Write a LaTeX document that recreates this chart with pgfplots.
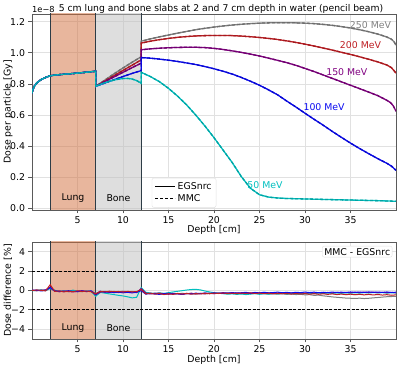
\documentclass[border=0pt]{standalone}
\usepackage{fontspec}
\setmainfont{DejaVu Sans}
\usepackage{pgfplots}
\usepackage{pgfplotstable}
\pgfplotsset{compat=1.18}

\definecolor{c250}{RGB}{128,128,128}
\definecolor{c200}{RGB}{190,30,35}
\definecolor{c150}{RGB}{128,0,128}
\definecolor{c100}{RGB}{10,10,240}
\definecolor{c50}{RGB}{0,191,191}
\definecolor{lungfill}{RGB}{210,110,60}
\definecolor{bonefill}{RGB}{190,190,190}
\definecolor{slabedge}{RGB}{45,60,70}
\definecolor{gridgray}{RGB}{225,225,225}
\definecolor{spine}{RGB}{90,90,90}

% Depth dose per particle (units of 1e-8 Gy), depth in cm
\pgfplotstableread{
x y
0 0.74
0.1 0.765
0.25 0.785
0.5 0.805
0.75 0.818
1 0.828
1.5 0.842
2 0.853
2.5 0.857
3 0.860
4 0.865
5 0.870
6 0.876
7 0.882
7 0.785
8 0.825
9 0.865
10 0.903
11 0.940
12 0.975
12 1.075
13 1.090
14 1.103
15 1.115
16 1.127
17 1.138
18 1.149
19 1.158
20 1.166
21 1.173
22 1.179
23 1.184
24 1.188
25 1.191
26 1.193
27 1.194
28 1.194
29 1.193
30 1.191
31 1.188
32 1.183
33 1.177
34 1.169
35 1.160
36 1.149
37 1.136
38 1.121
39 1.102
39.5 1.088
39.8 1.070
40 1.050
}\dosetwofifty

\pgfplotstableread{
x y
0 0.74
0.1 0.765
0.25 0.785
0.5 0.805
0.75 0.818
1 0.828
1.5 0.842
2 0.853
2.5 0.857
3 0.860
4 0.865
5 0.870
6 0.876
7 0.882
7 0.785
8 0.819
9 0.853
10 0.887
11 0.921
12 0.955
12 1.063
13 1.075
14 1.085
15 1.093
16 1.100
17 1.105
18 1.109
19 1.111
20 1.112
21 1.112
22 1.111
23 1.108
24 1.104
25 1.099
26 1.093
27 1.086
28 1.077
29 1.067
30 1.056
31 1.044
32 1.031
33 1.018
34 1.004
35 0.990
36 0.975
37 0.959
38 0.942
39 0.922
39.5 0.905
40 0.870
}\dosetwohundred

\pgfplotstableread{
x y
0 0.74
0.1 0.765
0.25 0.785
0.5 0.805
0.75 0.818
1 0.828
1.5 0.842
2 0.853
2.5 0.857
3 0.860
4 0.865
5 0.870
6 0.876
7 0.882
7 0.785
8 0.815
9 0.845
10 0.875
11 0.905
12 0.934
12 1.020
13 1.026
14 1.030
15 1.033
16 1.035
17 1.036
18 1.036
19 1.034
20 1.029
21 1.022
22 1.013
23 1.003
24 0.992
25 0.980
26 0.966
27 0.952
28 0.937
29 0.920
30 0.900
31 0.880
32 0.858
33 0.836
34 0.814
35 0.792
36 0.770
37 0.748
38 0.725
38.5 0.710
39 0.695
39.4 0.680
39.7 0.660
40 0.625
}\doseonefifty

\pgfplotstableread{
x y
0 0.74
0.1 0.765
0.25 0.785
0.5 0.805
0.75 0.818
1 0.828
1.5 0.842
2 0.853
2.5 0.857
3 0.860
4 0.865
5 0.870
6 0.876
7 0.882
7 0.785
8 0.806
9 0.827
10 0.848
11 0.868
12 0.886
12 0.970
13 0.966
14 0.960
15 0.953
16 0.945
17 0.935
18 0.925
19 0.912
20 0.898
21 0.882
22 0.864
23 0.842
24 0.818
25 0.792
26 0.762
27 0.730
28 0.690
29 0.652
30 0.612
31 0.573
32 0.535
33 0.495
34 0.457
35 0.420
36 0.385
37 0.352
38 0.320
39 0.290
39.5 0.272
40 0.245
}\doseonehundred

\pgfplotstableread{
x y
0 0.74
0.1 0.765
0.25 0.785
0.5 0.805
0.75 0.818
1 0.828
1.5 0.842
2 0.853
2.5 0.857
3 0.860
4 0.865
5 0.870
6 0.876
7 0.882
7 0.785
7.5 0.797
8 0.808
8.5 0.817
9 0.825
9.5 0.831
10 0.835
10.5 0.836
11 0.832
11.5 0.822
12 0.805
12 0.875
13 0.848
14 0.815
15 0.772
16 0.722
17 0.665
18 0.600
19 0.530
20 0.455
21 0.375
22 0.295
23 0.205
24 0.130
25 0.088
26 0.073
27 0.067
28 0.064
30 0.061
32 0.058
35 0.054
38 0.050
40 0.046
}\dosefifty

% Relative difference MMC - EGSnrc in percent
\pgfplotstableread{
x     d250   d200   d150   d100   d50
0.0   0.03  -0.02   0.05   0.01  -0.04
0.5  -0.04   0.06  -0.01   0.04   0.02
1.0   0.05   0.01   0.03  -0.05   0.06
1.5  -0.02  -0.04   0.07   0.03  -0.01
2.0   0.20   0.60   0.35   0.30   0.25
2.5  -0.05  -0.10  -0.02  -0.08   0.03
3.0  -0.11  -0.04  -0.13  -0.06  -0.09
3.5  -0.06  -0.14  -0.05  -0.12  -0.03
4.0  -0.13  -0.07  -0.10  -0.02  -0.11
4.5  -0.04  -0.12  -0.15  -0.09   0.04
5.0  -0.10  -0.03  -0.07  -0.13  -0.08
5.5  -0.07  -0.11  -0.02  -0.06  -0.12
6.0  -0.12  -0.06  -0.11  -0.10  -0.05
6.5  -0.03  -0.13  -0.08  -0.04  -0.10
7.0  -0.30  -0.35  -0.45  -0.40  -0.60
7.5  -0.12  -0.09  -0.16  -0.07  -0.20
8.0  -0.08  -0.15  -0.11  -0.19  -0.27
8.5  -0.14  -0.07  -0.20  -0.13  -0.35
9.0  -0.09  -0.13  -0.14  -0.22  -0.42
9.5  -0.15  -0.10  -0.21  -0.16  -0.50
10.0 -0.07  -0.16  -0.13  -0.24  -0.56
10.5 -0.13  -0.09  -0.19  -0.18  -0.65
11.0 -0.10  -0.14  -0.16  -0.25  -0.76
11.5 -0.16  -0.11  -0.22  -0.17  -0.70
12.0  0.05   0.10   0.20  -0.02   0.30
12.5 -0.28  -0.35  -0.25  -0.38  -0.18
13.0 -0.33  -0.27  -0.36  -0.29  -0.26
13.5 -0.26  -0.38  -0.30  -0.35  -0.31
14.0 -0.35  -0.31  -0.27  -0.40  -0.24
14.5 -0.29  -0.42  -0.34  -0.33  -0.30
15.0 -0.37  -0.33  -0.39  -0.28  -0.22
15.5 -0.31  -0.40  -0.29  -0.37  -0.15
16.0 -0.36  -0.30  -0.35  -0.32  -0.08
16.5 -0.28  -0.37  -0.41  -0.39  -0.02
17.0 -0.34  -0.29  -0.33  -0.30   0.05
17.5 -0.30  -0.38  -0.28  -0.36   0.10
18.0 -0.37  -0.32  -0.36  -0.27   0.12
18.5 -0.29  -0.36  -0.30  -0.33   0.06
19.0 -0.33  -0.28  -0.35  -0.25  -0.05
19.5 -0.27  -0.34  -0.29  -0.31  -0.15
20.0 -0.32  -0.27  -0.33  -0.24  -0.22
20.5 -0.26  -0.31  -0.27  -0.30  -0.28
21.0 -0.30  -0.25  -0.31  -0.22  -0.33
21.5 -0.24  -0.32  -0.26  -0.28  -0.38
22.0 -0.31  -0.27  -0.30  -0.21  -0.35
22.5 -0.27  -0.33  -0.24  -0.27  -0.40
23.0 -0.33  -0.26  -0.29  -0.23  -0.36
23.5 -0.28  -0.30  -0.25  -0.19  -0.42
24.0 -0.34  -0.24  -0.31  -0.26  -0.37
24.5 -0.29  -0.31  -0.27  -0.20  -0.33
25.0 -0.35  -0.27  -0.23  -0.25  -0.39
25.5 -0.30  -0.33  -0.29  -0.18  -0.34
26.0 -0.37  -0.28  -0.25  -0.24  -0.38
26.5 -0.32  -0.35  -0.30  -0.21  -0.32
27.0 -0.38  -0.29  -0.26  -0.17  -0.36
27.5 -0.33  -0.34  -0.22  -0.23  -0.30
28.0 -0.40  -0.30  -0.28  -0.19  -0.35
28.5 -0.36  -0.37  -0.24  -0.25  -0.31
29.0 -0.42  -0.31  -0.29  -0.18  -0.34
29.5 -0.39  -0.36  -0.23  -0.22  -0.29
30.0 -0.45  -0.32  -0.27  -0.16  -0.33
30.5 -0.43  -0.38  -0.22  -0.21  -0.28
31.0 -0.50  -0.33  -0.26  -0.17  -0.32
31.5 -0.48  -0.39  -0.21  -0.23  -0.27
32.0 -0.55  -0.34  -0.25  -0.18  -0.31
32.5 -0.60  -0.40  -0.20  -0.22  -0.26
33.0 -0.66  -0.35  -0.24  -0.16  -0.30
33.5 -0.70  -0.42  -0.19  -0.21  -0.25
34.0 -0.74  -0.37  -0.23  -0.17  -0.29
34.5 -0.78  -0.43  -0.18  -0.22  -0.24
35.0 -0.80  -0.38  -0.22  -0.15  -0.28
35.5 -0.82  -0.44  -0.17  -0.20  -0.23
36.0 -0.79  -0.39  -0.21  -0.16  -0.27
36.5 -0.83  -0.45  -0.16  -0.21  -0.22
37.0 -0.80  -0.40  -0.20  -0.15  -0.26
37.5 -0.76  -0.46  -0.17  -0.19  -0.21
38.0 -0.72  -0.41  -0.22  -0.16  -0.25
38.5 -0.68  -0.47  -0.18  -0.20  -0.22
39.0 -0.64  -0.43  -0.23  -0.15  -0.27
39.5 -0.62  -0.49  -0.19  -0.21  -0.23
40.0 -0.60  -0.45  -0.24  -0.17  -0.26
}\dosediff

\newcommand{\chartfont}{\fontsize{9.4}{11}\selectfont}

\pgfplotsset{
  depthaxis/.style={
    scale only axis, width=364bp,
    xmin=0, xmax=40,
    xtick={5,10,15,20,25,30,35},
    xticklabels={5,10,15,20,25,30,35},
    tick pos=left, tick align=outside,
    major tick length=3.5bp,
    tick style={spine, line width=0.8bp},
    axis line style={spine, line width=0.8bp},
    grid=major,
    major grid style={gridgray, line width=0.8bp},
    tick label style={font=\chartfont, text=black},
    label style={font=\chartfont},
    xlabel={Depth [cm]},
    clip mode=individual,
  },
  egs/.style={line width=1.3bp, #1},
  mmc/.style={line width=1.3bp, #1!85!black, dash pattern=on 3bp off 2bp},
  slab/.style={draw=slabedge, line width=1bp, fill=#1, fill opacity=0.5, forget plot},
}

\begin{document}
\begin{tikzpicture}[x=1bp,y=1bp]
\path[use as bounding box] (0,0) rectangle (400,368);

% ---------------- depth dose ----------------
\begin{axis}[
  depthaxis,
  name=doseax,
  at={(32bp,158bp)}, anchor=south west,
  height=196bp,
  ymin=-0.01, ymax=1.25,
  ytick={0,0.2,0.4,0.6,0.8,1.0,1.2},
  yticklabels={0.0,0.2,0.4,0.6,0.8,1.0,1.2},
  ylabel={Dose per particle [Gy]},
  ylabel style={at={(rel axis cs:-0.066,0.5)}, anchor=center},
  xlabel style={at={(rel axis cs:0.5,-0.102)}, anchor=center},
  legend style={at={(rel axis cs:0.329,0.012)}, anchor=south west,
    draw=gridgray, rounded corners=2bp, fill=white, font=\chartfont,
    inner sep=2.5bp, row sep=-0.5bp},
  legend cell align=left,
  legend image code/.code={\draw[#1] (0bp,0bp) -- (20bp,0bp);},
]
\addplot[slab=lungfill] coordinates {(2,-1) (7,-1) (7,2) (2,2)} -- cycle;
\addplot[slab=bonefill] coordinates {(7,-1) (12,-1) (12,2) (7,2)} -- cycle;

\addplot[egs=c250, forget plot] table {\dosetwofifty};
\addplot[mmc=c250, forget plot] table {\dosetwofifty};
\addplot[egs=c200, forget plot] table {\dosetwohundred};
\addplot[mmc=c200, forget plot] table {\dosetwohundred};
\addplot[egs=c150, forget plot] table {\doseonefifty};
\addplot[mmc=c150, forget plot] table {\doseonefifty};
\addplot[egs=c100, forget plot] table {\doseonehundred};
\addplot[mmc=c100, forget plot] table {\doseonehundred};
\addplot[egs=c50, forget plot] table {\dosefifty};
\addplot[mmc=c50, forget plot] table {\dosefifty};

\addlegendimage{black, line width=1.3bp}
\addlegendentry{EGSnrc}
\addlegendimage{black, line width=1.3bp, dash pattern=on 3bp off 2bp}
\addlegendentry{MMC}

\node[font=\chartfont] at (axis cs:4.5,0.065) {Lung};
\node[font=\chartfont] at (axis cs:9.5,0.065) {Bone};
\node[font=\chartfont, text=c250] at (axis cs:37.2,1.181) {250 MeV};
\node[font=\chartfont, text=c200] at (axis cs:36.1,1.047) {200 MeV};
\node[font=\chartfont, text=c150] at (axis cs:34.6,0.876) {150 MeV};
\node[font=\chartfont, text=c100] at (axis cs:32.1,0.651) {100 MeV};
\node[font=\chartfont, text=c50] at (axis cs:25.6,0.150) {50 MeV};
\end{axis}

% title and axis multiplier above the upper panel
\node[font=\fontsize{9.3}{11}\selectfont, anchor=base, inner sep=0pt] at (221,357)
  {5 cm lung and bone slabs at 2 and 7 cm depth in water (pencil beam)};
\node[font=\fontsize{8.3}{10}\selectfont, anchor=base west, inner sep=0pt] at (32,356)
  {1e\textminus8};

% ---------------- difference ----------------
\begin{axis}[
  depthaxis,
  at={(32bp,29bp)}, anchor=south west,
  height=97bp,
  ymin=-5, ymax=5,
  ytick={-4,-2,0,2,4},
  yticklabels={−4,−2,0,2,4},
  ylabel={Dose difference [\%]},
  ylabel style={at={(rel axis cs:-0.066,0.5)}, anchor=center},
  xlabel style={at={(rel axis cs:0.5,-0.212)}, anchor=center},
]
\addplot[slab=lungfill] coordinates {(2,-6) (7,-6) (7,6) (2,6)} -- cycle;
\addplot[slab=bonefill] coordinates {(7,-6) (12,-6) (12,6) (7,6)} -- cycle;

\addplot[black, line width=0.9bp, dash pattern=on 3bp off 1.5bp, forget plot] coordinates {(0,2) (40,2)};
\addplot[black, line width=0.9bp, dash pattern=on 3bp off 1.5bp, forget plot] coordinates {(0,-2) (40,-2)};

\addplot[c250, line width=1bp] table[x=x, y=d250] {\dosediff};
\addplot[c50, line width=1bp] table[x=x, y=d50] {\dosediff};
\addplot[c150, line width=1bp] table[x=x, y=d150] {\dosediff};
\addplot[c100, line width=1bp] table[x=x, y=d100] {\dosediff};
\addplot[c200, line width=1bp] table[x=x, y=d200] {\dosediff};

\node[font=\chartfont] at (axis cs:4.5,-3.9) {Lung};
\node[font=\chartfont] at (axis cs:9.5,-3.9) {Bone};
\node[font=\chartfont, draw=gridgray, fill=white, rounded corners=2bp,
      inner sep=2bp, anchor=north east] at (rel axis cs:0.99,0.96) {MMC - EGSnrc};
\end{axis}
\end{tikzpicture}
\end{document}
